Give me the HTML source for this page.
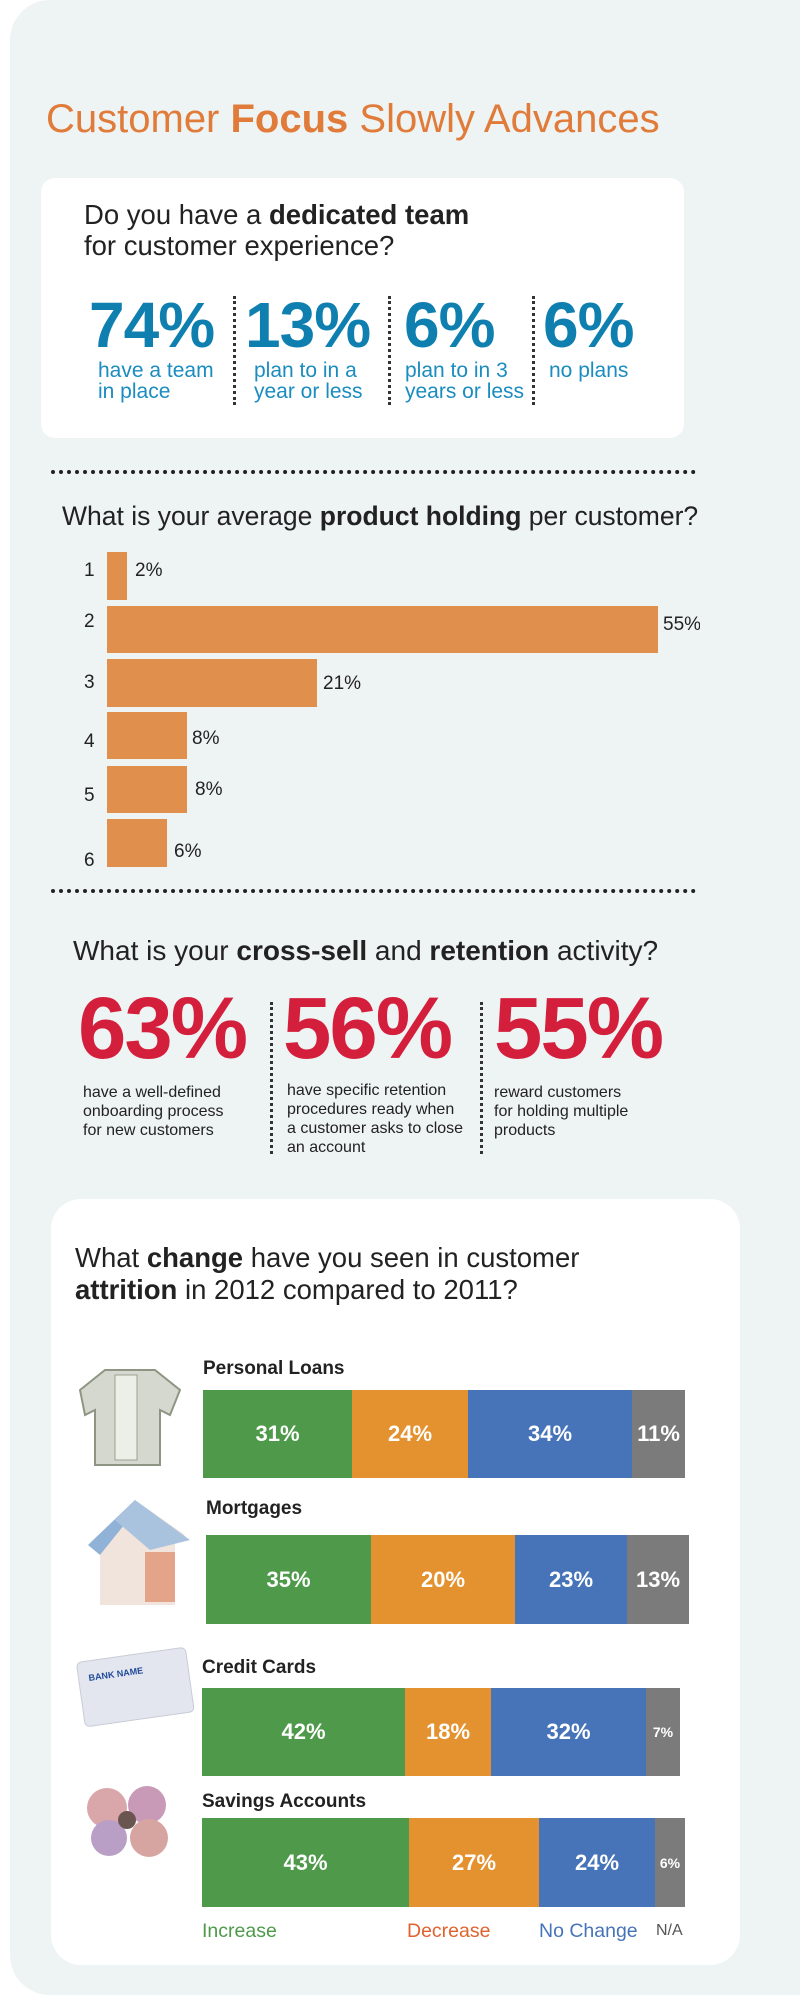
<!DOCTYPE html>
<html><head><meta charset="utf-8"><style>
*{margin:0;padding:0;box-sizing:border-box}
body{width:800px;height:2002px;background:#fff;position:relative;overflow:hidden;font-family:"Liberation Sans",sans-serif}
.a{position:absolute;white-space:nowrap}
.panel{left:10px;top:0;width:800px;height:1995px;background:#eef3f3;border-radius:40px 0 0 40px}
.box{background:#fff}
.q{font-size:27px;color:#222}
.big{font-size:64px;font-weight:bold;color:#0f7fb0;letter-spacing:-1px;line-height:64px}
.sub{font-size:21px;color:#1a8cc0;line-height:21px}
.vd{width:0;border-left:3px dotted #333}
.hd{height:0;border-top:4px dotted #222}
.bar{background:#e0904c;left:107px}
.n{font-size:19px;color:#222;line-height:19px}
.red{font-size:87px;font-weight:bold;color:#d41f3c;letter-spacing:-2px}
.rs{font-size:16px;color:#222;line-height:19px}
.lab{font-size:19px;font-weight:bold;color:#222}
.seg{position:absolute;top:0;height:100%;color:#fff;font-weight:bold;font-size:22px;display:flex;align-items:center;justify-content:center}
.g{background:#4e9a4a}.o{background:#e3922f}.b{background:#4774b8}.y{background:#7b7b7b}
</style></head><body>
<div class="a panel"></div>
<div class="a" style="left:46px;top:97px;font-size:40px;color:#e07b39">Customer <b>Focus</b> Slowly Advances</div>

<div class="a box" style="left:41px;top:178px;width:643px;height:260px;border-radius:14px"></div>
<div class="a q" style="left:84px;top:199px;line-height:31px;font-size:27.5px">Do you have a <b>dedicated team</b><br>for customer experience?</div>
<div class="a big" style="left:89px;top:293px">74%</div>
<div class="a big" style="left:245px;top:293px">13%</div>
<div class="a big" style="left:404px;top:293px">6%</div>
<div class="a big" style="left:543px;top:293px">6%</div>
<div class="a sub" style="left:98px;top:360px">have a team<br>in place</div>
<div class="a sub" style="left:254px;top:360px">plan to in a<br>year or less</div>
<div class="a sub" style="left:405px;top:360px">plan to in 3<br>years or less</div>
<div class="a sub" style="left:549px;top:360px">no plans</div>
<div class="a vd" style="left:233px;top:296px;height:109px"></div>
<div class="a vd" style="left:388px;top:296px;height:109px"></div>
<div class="a vd" style="left:532px;top:296px;height:109px"></div>

<div class="a hd" style="left:51px;top:470px;width:645px"></div>
<div class="a q" style="left:62px;top:501px;font-size:26.5px">What is your average <b>product holding</b> per customer?</div>
<div class="a bar" style="top:552px;width:20px;height:48px"></div>
<div class="a bar" style="top:606px;width:551px;height:47px"></div>
<div class="a bar" style="top:659px;width:210px;height:48px"></div>
<div class="a bar" style="top:712px;width:80px;height:47px"></div>
<div class="a bar" style="top:766px;width:80px;height:47px"></div>
<div class="a bar" style="top:819px;width:60px;height:48px"></div>
<div class="a n" style="left:84px;top:561px">1</div>
<div class="a n" style="left:84px;top:612px">2</div>
<div class="a n" style="left:84px;top:673px">3</div>
<div class="a n" style="left:84px;top:732px">4</div>
<div class="a n" style="left:84px;top:786px">5</div>
<div class="a n" style="left:84px;top:851px">6</div>
<div class="a n" style="left:135px;top:561px">2%</div>
<div class="a n" style="left:663px;top:615px;width:37px;overflow:hidden">55%</div>
<div class="a n" style="left:323px;top:674px">21%</div>
<div class="a n" style="left:192px;top:729px">8%</div>
<div class="a n" style="left:195px;top:780px">8%</div>
<div class="a n" style="left:174px;top:842px">6%</div>
<div class="a hd" style="left:51px;top:889px;width:645px"></div>

<div class="a q" style="left:73px;top:935px;font-size:28px">What is your <b>cross-sell</b> and <b>retention</b> activity?</div>
<div class="a red" style="left:78px;top:979px">63%</div>
<div class="a red" style="left:283px;top:979px">56%</div>
<div class="a red" style="left:494px;top:979px">55%</div>
<div class="a rs" style="left:83px;top:1083px">have a well-defined<br>onboarding process<br>for new customers</div>
<div class="a rs" style="left:287px;top:1081px">have specific retention<br>procedures ready when<br>a customer asks to close<br>an account</div>
<div class="a rs" style="left:494px;top:1083px">reward customers<br>for holding multiple<br>products</div>
<div class="a vd" style="left:270px;top:1002px;height:152px"></div>
<div class="a vd" style="left:480px;top:1002px;height:152px"></div>

<div class="a box" style="left:51px;top:1199px;width:689px;height:766px;border-radius:30px"></div>
<div class="a q" style="left:75px;top:1242px;font-size:27.5px;line-height:32px">What <b>change</b> have you seen in customer<br><b>attrition</b> in 2012 compared to 2011?</div>

<svg class="a" style="left:60px;top:1360px" width="140" height="510">
<path d="M20 30 L45 10 L95 10 L120 30 L110 55 L100 50 L100 105 L35 105 L35 50 L25 55 Z" fill="#d5d8cf" stroke="#8e9683" stroke-width="2"/>
<rect x="55" y="15" width="22" height="85" fill="#eceee8" stroke="#9aa28f"/>
<path d="M30 183 L75 140 L125 175 L115 180 L115 245 L40 245 L40 185 Z" fill="#f1e4dc"/>
<path d="M28 185 L75 140 L80 145 L40 195 Z" fill="#8fb2d6"/>
<path d="M75 140 L130 180 L90 190 L55 160 Z" fill="#a9c3df"/>
<rect x="85" y="192" width="30" height="50" fill="#e3a48a"/>
<g transform="rotate(-8 72 325)"><rect x="20" y="295" width="110" height="65" rx="5" fill="#e3e6ee" stroke="#c8ccd6"/>
<text x="30" y="315" font-size="9" font-weight="bold" fill="#1f4a9a" font-family="Liberation Sans">BANK NAME</text></g>
<g transform="translate(67 460)"><circle cx="-20" cy="-12" r="20" fill="#d9a6a9"/><circle cx="20" cy="-15" r="19" fill="#c89ab8"/><circle cx="22" cy="18" r="19" fill="#d7a5a1"/><circle cx="-18" cy="18" r="18" fill="#b99ec6"/><circle cx="0" cy="0" r="9" fill="#6b5550"/></g>
</svg>

<div class="a lab" style="left:203px;top:1358px">Personal Loans</div>
<div class="a" style="left:203px;top:1390px;width:482px;height:88px">
<div class="seg g" style="left:0;width:149px">31%</div><div class="seg o" style="left:149px;width:116px">24%</div><div class="seg b" style="left:265px;width:164px">34%</div><div class="seg y" style="left:429px;width:53px">11%</div></div>
<div class="a lab" style="left:206px;top:1498px">Mortgages</div>
<div class="a" style="left:206px;top:1535px;width:483px;height:89px">
<div class="seg g" style="left:0;width:165px">35%</div><div class="seg o" style="left:165px;width:144px">20%</div><div class="seg b" style="left:309px;width:112px">23%</div><div class="seg y" style="left:421px;width:62px">13%</div></div>
<div class="a lab" style="left:202px;top:1657px">Credit Cards</div>
<div class="a" style="left:202px;top:1688px;width:478px;height:88px">
<div class="seg g" style="left:0;width:203px">42%</div><div class="seg o" style="left:203px;width:86px">18%</div><div class="seg b" style="left:289px;width:155px">32%</div><div class="seg y" style="left:444px;width:34px;font-size:14px">7%</div></div>
<div class="a lab" style="left:202px;top:1791px">Savings Accounts</div>
<div class="a" style="left:202px;top:1818px;width:483px;height:89px">
<div class="seg g" style="left:0;width:207px">43%</div><div class="seg o" style="left:207px;width:130px">27%</div><div class="seg b" style="left:337px;width:116px">24%</div><div class="seg y" style="left:453px;width:30px;font-size:14px">6%</div></div>

<div class="a" style="left:202px;top:1920px;font-size:19.5px;color:#4e9a4a">Increase</div>
<div class="a" style="left:407px;top:1920px;font-size:19.5px;color:#e0632f">Decrease</div>
<div class="a" style="left:539px;top:1920px;font-size:19.5px;color:#4774b8">No Change</div>
<div class="a" style="left:656px;top:1922px;font-size:16px;color:#555">N/A</div>
</body></html>
